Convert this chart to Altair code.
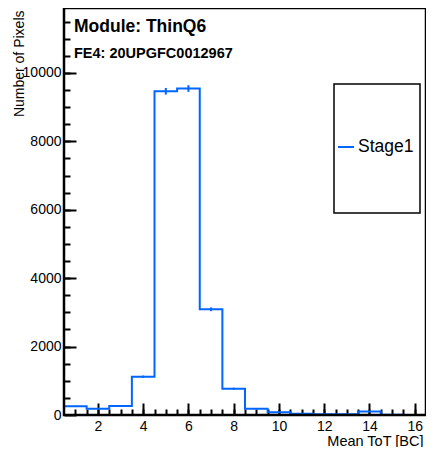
import altair as alt
import pandas as pd
import numpy as np

# ---- data ----
bin_centers = list(range(1, 17))
counts = [254, 184, 263, 1120, 9465, 9545, 3090, 770, 180, 80, 40, 20, 20, 100, 10, 0]
series_name = "Stage1"
x_major = [2, 4, 6, 8, 10, 12, 14, 16]
x_minor = [v / 2 for v in range(2, 33)]
y_major = [0, 2000, 4000, 6000, 8000, 10000]
y_minor = [v * 500 for v in range(1, 24)]
title1 = "Module: ThinQ6"
title2 = "FE4: 20UPGFC0012967"
x_title = "Mean ToT [BC]"
y_title = "Number of Pixels"

BLUE = "#0066ff"
INK = "#000000"
W, H = 362, 407
FONT = "Liberation Sans"
XMIN, XMAX = 0.5, 16.5
YMIN, YMAX = 0, 11900
MAJ, MIN = 12, 6

xs = alt.Scale(domain=[XMIN, XMAX], nice=False, zero=False)
ys = alt.Scale(domain=[YMIN, YMAX], nice=False, zero=False)

# major axes: ticks drawn inward by offsetting the axis into the plot
xaxis_major = alt.Axis(orient="bottom", values=x_major, format="d", offset=-MAJ,
                       ticks=True, tickSize=MAJ, tickWidth=2, tickColor=INK,
                       domain=False, grid=False,
                       labelFontSize=14, labelPadding=4, labelFont=FONT,
                       labelColor="black", labelFlush=False,
                       titleFont=FONT, titleFontSize=14.5, titleFontWeight="normal",
                       titleColor="black", titleAlign="right", titleAnchor="end",
                       titleX=W - 3, titleY=30 + MAJ, titleBaseline="alphabetic")
yaxis_major = alt.Axis(orient="left", values=y_major, format="d", offset=-MAJ,
                       ticks=True, tickSize=MAJ, tickWidth=2, tickColor=INK,
                       domain=False, grid=False,
                       labelFontSize=14, labelPadding=3, labelFont=FONT,
                       labelColor="black", labelFlush=False,
                       titleFont=FONT, titleFontSize=14, titleFontWeight="normal",
                       titleColor="black", titleAngle=270, titleAlign="right",
                       titleX=-41 - MAJ, titleY=2, titleBaseline="alphabetic")
xaxis_minor = alt.Axis(orient="bottom", values=x_minor, offset=-MIN,
                       ticks=True, tickSize=MIN, tickWidth=2, tickColor=INK,
                       labels=False, domain=False, grid=False)
yaxis_minor = alt.Axis(orient="left", values=y_minor, offset=-MIN,
                       ticks=True, tickSize=MIN, tickWidth=2, tickColor=INK,
                       labels=False, domain=False, grid=False)

edges = [c - 0.5 for c in bin_centers] + [bin_centers[-1] + 0.5]
step_df = pd.DataFrame({"x": edges, "y": counts + [counts[-1]], "s": series_name})
err_df = pd.DataFrame({
    "x": bin_centers,
    "lo": [c - np.sqrt(c) for c in counts],
    "hi": [c + np.sqrt(c) for c in counts],
})

hist = alt.Chart(step_df).mark_line(interpolate="step-after", strokeWidth=2).encode(
    x=alt.X("x:Q", scale=xs, title=x_title, axis=xaxis_major),
    y=alt.Y("y:Q", scale=ys, title=y_title, axis=yaxis_major),
    color=alt.Color("s:N", scale=alt.Scale(range=[BLUE]),
                    legend=alt.Legend(title=None, orient="none", legendX=273, legendY=130,
                                      symbolType="stroke", symbolStrokeWidth=2,
                                      symbolSize=256, labelFontSize=17.5, labelFont=FONT,
                                      labelColor="black", labelOffset=3, padding=0)),
)

errs = alt.Chart(err_df).mark_rule(color=BLUE, strokeWidth=2).encode(
    x=alt.X("x:Q", scale=xs, title=None, axis=xaxis_minor),
    y=alt.Y("lo:Q", scale=ys, title=None, axis=yaxis_minor),
    y2="hi:Q",
)

t1 = alt.Chart(pd.DataFrame({"t": [title1]})).mark_text(
    align="left", baseline="middle", font=FONT, fontSize=17.5, fontWeight="bold", color="black"
).encode(text="t:N", x=alt.value(10), y=alt.value(19))
t2 = alt.Chart(pd.DataFrame({"t": [title2]})).mark_text(
    align="left", baseline="middle", font=FONT, fontSize=14.5, fontWeight="bold", color="black"
).encode(text="t:N", x=alt.value(10), y=alt.value(46))

legbox = alt.Chart(pd.DataFrame({"a": [0]})).mark_rect(
    fill="white", stroke="black", strokeWidth=1.5
).encode(x=alt.value(270), x2=alt.value(356), y=alt.value(76), y2=alt.value(205))

frame = alt.Chart(pd.DataFrame({"b": [1]})).mark_rect(
    fill="white", fillOpacity=0, stroke=INK, strokeWidth=2.5
).encode(x=alt.value(0), x2=alt.value(W), y=alt.value(0), y2=alt.value(H))

chart = alt.layer(legbox, hist, errs, t1, t2, frame).resolve_axis(
    x="independent", y="independent"
).properties(
    width=W, height=H,
    autosize=alt.AutoSizeParams(type="none"),
    padding={"left": 56, "top": 0, "right": 0, "bottom": 32},
).configure_view(stroke="black", strokeWidth=2)

chart.save("out.html", embed_options={"renderer": "svg", "actions": False})
